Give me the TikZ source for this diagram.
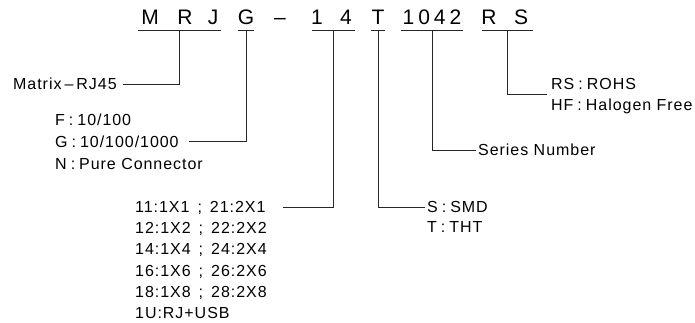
\documentclass[tikz,border=0pt]{standalone}
\usepackage{fontspec}
\setmainfont{Liberation Sans}
\newfontfamily\cadfont{Liberation Sans}[LetterSpace=6]
\newcommand{\cc}{\hspace{4pt}:\hspace{4pt}}
\usetikzlibrary{positioning,calc}
\tikzset{
  code/.style={font=\fontsize{21}{21}\selectfont,inner sep=0pt,anchor=base},
  desc/.style={font=\cadfont\fontsize{16}{16}\selectfont,inner sep=0pt,anchor=west,
    text height=11.5pt,text depth=0pt},
  lead/.style={line width=0.9pt,black!85},
}

\begin{document}
\begin{tikzpicture}[x=1pt,y=-1pt,node distance=9.2pt]
  \useasboundingbox (0,0) rectangle (695,323);
  % part number
  \node[code] (cM) at (150,25) {M};
  \node[code] (cR) at (185,25) {R};
  \node[code] (cJ) at (213,25) {J};
  \node[code] (cG) at (246,25) {G};
  \node[code] (cDash) at (280,25) {--};
  \node[code] (cOne) at (317,25) {1};
  \node[code] (cFour) at (346,25) {4};
  \node[code] (cT) at (378,25) {T};
  \node[code] (cSer) at (432,25) {1\kern4pt 0\kern4pt 4\kern4pt 2};
  \node[code] (cR2) at (489,25) {R};
  \node[code] (cS) at (521,25) {S};
  % underlines, drop points at their middles
  \draw[lead] ($(cM.base west)+(-3,5)$) -- coordinate (dRJ) ($(cJ.base east)+(3,5)$);
  \draw[lead] ($(cG.base west)+(0,5)$) -- coordinate (dG) ($(cG.base east)+(0,5)$);
  \draw[lead] ($(cOne.base west)+(1,5)$) -- coordinate (dPort) ($(cFour.base east)+(3,5)$);
  \draw[lead] ($(cT.base west)+(0,5)$) -- coordinate (dT) ($(cT.base east)+(0,5)$);
  \draw[lead] ($(cSer.base west)+(-1,5)$) -- coordinate (dSer) ($(cSer.base east)+(1,5)$);
  \draw[lead] ($(cR2.base west)+(1,5)$) -- coordinate (dRS) ($(cS.base east)+(5,5)$);

  % descriptions
  \node[desc] (matrix) at (13,84) {Matrix\kern3pt\textendash\kern3pt RJ45};
  \node[desc] (fF) at (55,120) {F\cc 10/100};
  \node[desc,below=10pt of fF.south west,anchor=north west] (fG) {G\cc 10/100/1000};
  \node[desc,below=10pt of fG.south west,anchor=north west] (fN) {N\cc Pure Connector};

  \node[desc] (p1) at (135,207) {11:1X1\enspace;\enspace 21:2X1};
  \node[desc,below=of p1.south west,anchor=north west] (p2) {12:1X2\enspace;\enspace 22:2X2};
  \node[desc,below=of p2.south west,anchor=north west] (p3) {14:1X4\enspace;\enspace 24:2X4};
  \node[desc,below=of p3.south west,anchor=north west] (p4) {16:1X6\enspace;\enspace 26:2X6};
  \node[desc,below=of p4.south west,anchor=north west] (p5) {18:1X8\enspace;\enspace 28:2X8};
  \node[desc,below=of p5.south west,anchor=north west] (p6) {1U:RJ+USB};

  \node[desc] (smd) at (427,207) {S\cc SMD};
  \node[desc,below=7.5pt of smd.south west,anchor=north west] (tht) {T\cc THT};
  \node[desc] (series) at (478,150) {Series Number};
  \node[desc] (rohs) at (551,84) {RS\cc ROHS};
  \node[desc,below=8.5pt of rohs.south west,anchor=north west] (hf) {HF\cc Halogen Free};

  % leaders
  \draw[lead,shorten >=6pt] (dRJ) |- (matrix.east);
  \draw[lead,shorten >=10pt] (dG) |- (fG.east);
  \draw[lead,shorten >=17pt] (dPort) |- (p1.east);
  \draw[lead,shorten >=2pt] (dT) |- (smd.west);
  \draw[lead,shorten >=2pt] (dSer) |- (series.west);
  \draw[lead,shorten >=4pt] (dRS) |- ($(rohs.south west)!0.5!(hf.north west)$);
\end{tikzpicture}
\end{document}
